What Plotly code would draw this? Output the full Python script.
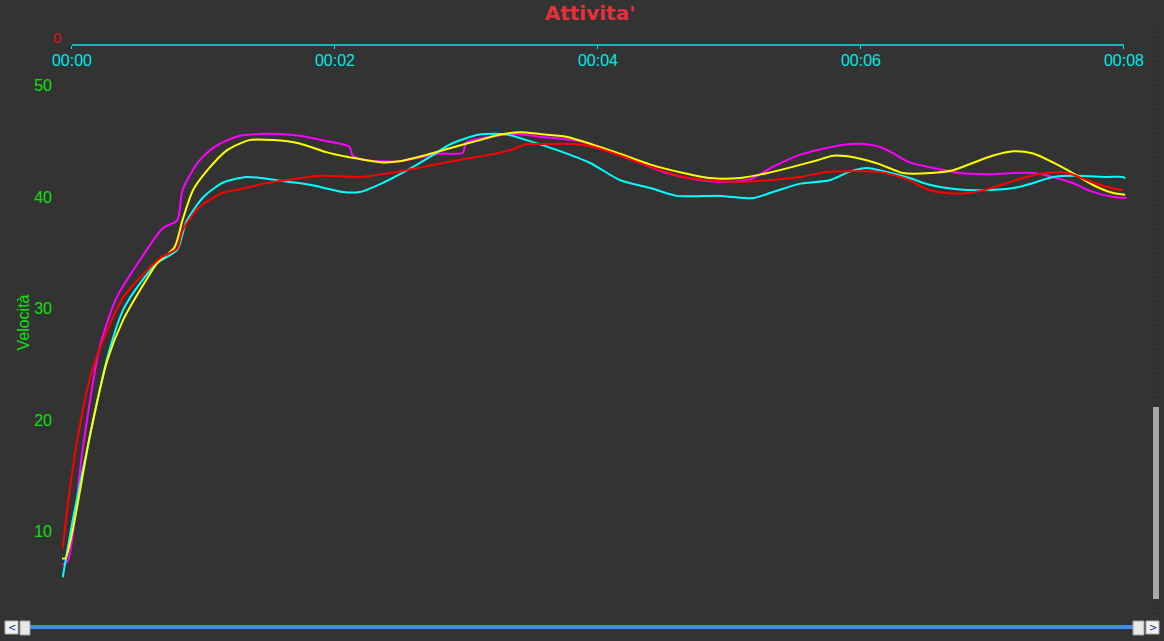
import plotly.graph_objects as go

# ---- data (time in minutes, speed) ----
magenta_t = [-0.07, -0.03, 0.08, 0.21, 0.34, 0.52, 0.69, 0.80, 0.84, 0.95, 1.03, 1.13, 1.28, 1.43, 1.58, 1.73,
             1.94, 2.11, 2.13, 2.19, 2.37, 2.49, 2.67, 2.80, 2.97, 3.00, 3.18, 3.38, 3.56, 3.81, 3.96, 4.11,
             4.27, 4.52, 4.78, 4.98, 5.16, 5.33, 5.54, 5.74, 5.92, 6.02, 6.14, 6.24, 6.37, 6.55, 6.75, 7.00,
             7.16, 7.31, 7.46, 7.61, 7.74, 7.92, 8.02]
magenta_v = [7.0, 7.4, 17.3, 26.5, 31.0, 34.4, 37.2, 37.9, 40.6, 43.0, 44.0, 44.8, 45.5, 45.65, 45.65, 45.5,
             45.0, 44.5, 43.8, 43.4, 43.2, 43.2, 43.6, 43.9, 43.95, 44.9, 45.4, 45.65, 45.4, 45.1, 44.7, 44.0,
             43.3, 42.15, 41.5, 41.35, 41.6, 42.7, 43.8, 44.4, 44.75, 44.75, 44.5, 43.95, 43.1, 42.6, 42.15, 42.05,
             42.15, 42.15, 41.8, 41.25, 40.55, 40.0, 39.9]

yellow_t = [-0.08, -0.05, 0.01, 0.14, 0.27, 0.39, 0.52, 0.65, 0.78, 0.84, 0.92, 1.03, 1.18, 1.35, 1.53, 1.73,
            1.94, 2.09, 2.19, 2.37, 2.49, 2.67, 2.88, 3.10, 3.26, 3.41, 3.56, 3.76, 3.96, 4.14, 4.40, 4.65,
            4.85, 5.08, 5.29, 5.48, 5.67, 5.79, 5.97, 6.14, 6.32, 6.53, 6.70, 6.85, 7.00, 7.16, 7.31, 7.46,
            7.61, 7.76, 7.92, 8.01]
yellow_v = [7.6, 7.6, 10.4, 18.8, 25.4, 29.0, 31.7, 34.1, 35.5, 37.9, 40.6, 42.4, 44.2, 45.1, 45.1, 44.8,
            44.0, 43.6, 43.4, 43.1, 43.2, 43.7, 44.4, 45.1, 45.6, 45.8, 45.65, 45.4, 44.7, 44.0, 42.9, 42.15,
            41.7, 41.7, 42.15, 42.7, 43.3, 43.7, 43.5, 42.95, 42.15, 42.15, 42.4, 43.05, 43.7, 44.1, 43.9, 43.1,
            42.15, 41.1, 40.35, 40.2]

cyan_t = [-0.07, 0.01, 0.14, 0.27, 0.39, 0.52, 0.65, 0.80, 0.87, 1.00, 1.15, 1.33, 1.56, 1.81, 2.06, 2.19,
          2.37, 2.55, 2.75, 2.87, 3.10, 3.31, 3.51, 3.69, 3.94, 4.17, 4.40, 4.60, 4.93, 5.18, 5.33, 5.54,
          5.76, 5.92, 6.05, 6.14, 6.37, 6.52, 6.73, 6.90, 7.16, 7.31, 7.46, 7.64, 7.87, 7.99, 8.01]
cyan_v = [5.9, 11.3, 18.8, 25.65, 29.9, 32.3, 34.1, 35.25, 37.8, 40.0, 41.3, 41.8, 41.5, 41.1, 40.45, 40.45,
          41.3, 42.4, 43.8, 44.7, 45.6, 45.6, 44.9, 44.2, 43.05, 41.5, 40.8, 40.1, 40.1, 39.9, 40.45, 41.2,
          41.5, 42.3, 42.6, 42.4, 41.7, 41.1, 40.7, 40.6, 40.8, 41.25, 41.8, 41.9, 41.8, 41.8, 41.7]

red_t = [-0.07, -0.03, 0.04, 0.14, 0.27, 0.39, 0.52, 0.67, 0.80, 0.84, 0.97, 1.15, 1.28, 1.48, 1.68, 1.89,
         2.19, 2.42, 2.67, 2.93, 3.18, 3.33, 3.46, 3.56, 3.81, 3.96, 4.17, 4.40, 4.65, 4.85, 5.08, 5.29,
         5.54, 5.74, 5.94, 6.14, 6.35, 6.50, 6.65, 6.81, 6.96, 7.11, 7.26, 7.41, 7.57, 7.72, 7.87, 7.99]
red_v = [8.5, 12.6, 18.2, 23.9, 28.1, 31.0, 32.8, 34.5, 35.4, 37.0, 39.1, 40.4, 40.7, 41.25, 41.6, 41.9,
         41.8, 42.15, 42.7, 43.3, 43.8, 44.2, 44.75, 44.75, 44.75, 44.5, 43.7, 42.7, 41.8, 41.5, 41.35, 41.5,
         41.8, 42.25, 42.3, 42.25, 41.6, 40.7, 40.35, 40.35, 40.7, 41.25, 41.8, 42.15, 42.15, 41.5, 40.9, 40.6]

x_tickvals = [0, 2, 4, 6, 8]
x_ticktext = ["00:00", "00:02", "00:04", "00:06", "00:08"]
y_tickvals = [10, 20, 30, 40, 50]

# ---- figure ----
BG = "#333333"
W, H = 1164, 641
L, R, T, B = 62, 34, 45, 41
AX = "#00e8e8"

fig = go.Figure()
series = [
    (magenta_t, magenta_v, "#ff00ff"),
    (cyan_t, cyan_v, "#00ffff"),
    (yellow_t, yellow_v, "#ffff00"),
    (red_t, red_v, "#ff0000"),
]
for t, v, c in series:
    fig.add_trace(go.Scatter(x=t, y=v, mode="lines",
                             line=dict(color=c, width=2, shape="spline", smoothing=0.7),
                             hoverinfo="skip", showlegend=False))


def px_x(p):
    return (p - L) / (W - L - R)


def px_y(p):
    return (H - B - p) / (H - T - B)


shapes = [
    # top axis line from 00:00 to 00:08
    dict(type="line", xref="x", yref="paper", x0=0, x1=8, y0=1, y1=1,
         line=dict(color=AX, width=1.5)),
    # faint dotted guides at the right edge
    dict(type="line", xref="paper", yref="paper", x0=px_x(1153), x1=px_x(1153), y0=px_y(615), y1=px_y(28),
         line=dict(color="#2a2a2a", width=1, dash="dot")),
    dict(type="line", xref="paper", yref="paper", x0=px_x(1158), x1=px_x(1158), y0=px_y(615), y1=px_y(28),
         line=dict(color="#2a2a2a", width=1, dash="dot")),
    # horizontal scroll track
    dict(type="line", xref="paper", yref="paper", x0=px_x(28), x1=px_x(1136), y0=px_y(627), y1=px_y(627),
         line=dict(color="#3c8ee8", width=4)),
    # left button
    dict(type="rect", xref="paper", yref="paper", x0=px_x(5), x1=px_x(18), y0=px_y(634), y1=px_y(621),
         fillcolor="#f0f0f0", line=dict(color="#b0b0b0", width=1)),
    # left thumb
    dict(type="rect", xref="paper", yref="paper", x0=px_x(20), x1=px_x(30), y0=px_y(635), y1=px_y(621),
         fillcolor="#e8e8e8", line=dict(color="#a0a0a0", width=1)),
    # right thumb
    dict(type="rect", xref="paper", yref="paper", x0=px_x(1133), x1=px_x(1144), y0=px_y(635), y1=px_y(621),
         fillcolor="#e8e8e8", line=dict(color="#a0a0a0", width=1)),
    # right button
    dict(type="rect", xref="paper", yref="paper", x0=px_x(1146), x1=px_x(1159), y0=px_y(634), y1=px_y(621),
         fillcolor="#f0f0f0", line=dict(color="#b0b0b0", width=1)),
    # vertical scrollbar thumb
    dict(type="rect", xref="paper", yref="paper", x0=px_x(1153), x1=px_x(1159), y0=px_y(599), y1=px_y(407),
         fillcolor="#a8a8a8", line=dict(width=0)),
]

annotations = [
    dict(text="0", xref="paper", yref="paper", x=px_x(57), y=px_y(38), showarrow=False,
         font=dict(family="Liberation Sans", size=15, color="#e01010"), xanchor="center", yanchor="middle"),
    dict(text="<", xref="paper", yref="paper", x=px_x(11.5), y=px_y(627.5), showarrow=False,
         font=dict(family="DejaVu Sans", size=10, color="#203080"), xanchor="center", yanchor="middle"),
    dict(text=">", xref="paper", yref="paper", x=px_x(1152.5), y=px_y(627.5), showarrow=False,
         font=dict(family="DejaVu Sans", size=10, color="#203080"), xanchor="center", yanchor="middle"),
]

fig.update_layout(
    width=W, height=H,
    paper_bgcolor=BG, plot_bgcolor=BG,
    margin=dict(l=L, r=R, t=T, b=B, pad=0),
    title=dict(text="<b>Attivita'</b>", x=590 / W, xanchor="center", y=1 - 13 / H, yanchor="middle",
               font=dict(family="DejaVu Sans", size=20, color="#e8303c")),
    xaxis=dict(anchor="free", position=1, side="bottom", range=[-0.076, 8.046],
               tickvals=x_tickvals, ticktext=x_ticktext,
               ticks="outside", ticklen=3, tickcolor=AX, tickwidth=1, ticklabelstandoff=-2,
               tickfont=dict(family="Liberation Sans", size=16, color=AX),
               showgrid=False, zeroline=False, showline=False, fixedrange=True),
    yaxis=dict(range=[3.86, 53.63], tickvals=y_tickvals, ticks="", showgrid=False, zeroline=False,
               showline=False, ticklabelstandoff=9,
               tickfont=dict(family="Liberation Sans", size=16, color="#10e010"),
               title=dict(text="Velocità", font=dict(family="Liberation Sans", size=16, color="#10e010"),
                          standoff=0)),
    shapes=shapes,
    annotations=annotations,
)

fig.write_html("out.html", config={"displayModeBar": False},
               post_script="document.body.style.margin='0';document.body.style.background='#333333';"
                           "document.body.style.overflow='hidden';")
